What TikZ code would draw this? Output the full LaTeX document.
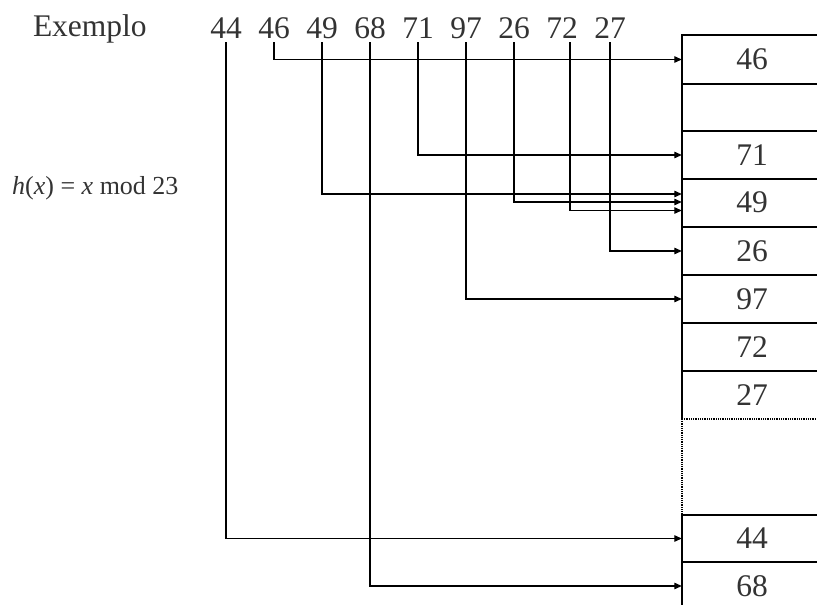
\documentclass[tikz,border=0pt]{standalone}
\usepackage{fontspec}
\setmainfont{Liberation Serif}
\usetikzlibrary{arrows.meta}
\begin{document}
\begin{tikzpicture}[x=1pt,y=-1pt,
  lbl/.style={font=\fontsize{31.5}{36}\selectfont, text=black!80, inner sep=2pt, outer sep=2pt, anchor=base},
  cell/.style={font=\fontsize{31.5}{36}\selectfont, text=black!80, minimum width=140pt, minimum height=48pt, inner sep=0pt},
  conn/.style={line width=1.2pt, -{Triangle[length=7.5pt,width=6.5pt]}},
  gridline/.style={line width=1.8pt},
  dotline/.style={line width=1.2pt, dash pattern=on 1pt off 0.8pt}]
\useasboundingbox (0,0) rectangle (817,605);
% labels
\node[lbl, anchor=base west] (ex) at (29,36) {Exemplo};
\node[font=\fontsize{26}{30}\selectfont, text=black!80, anchor=base west, inner sep=0pt] (fx) at (12,194) {\textit{h}(\textit{x}) = \textit{x} mod 23};
\node[lbl] (n44) at (226,38) {44};
\node[lbl] (n46) at (274,38) {46};
\node[lbl] (n49) at (322,38) {49};
\node[lbl] (n68) at (370,38) {68};
\node[lbl] (n71) at (418,38) {71};
\node[lbl] (n97) at (466,38) {97};
\node[lbl] (n26) at (514,38) {26};
\node[lbl] (n72) at (562,38) {72};
\node[lbl] (n27) at (610,38) {27};
% cells
\node[cell] (c46) at (752,59.5) {46};
\node[cell] (c00) at (752,107.5) {};
\node[cell] (c71) at (752,155) {71};
\node[cell] (c49) at (752,202.5) {49};
\node[cell] (c26) at (752,251) {26};
\node[cell] (c97) at (752,299) {97};
\node[cell] (c72) at (752,347) {72};
\node[cell] (c27) at (752,395) {27};
\node[cell] (c44) at (752,538.5) {44};
\node[cell] (c68) at (752,586) {68};
% table lines
\draw[gridline] (817,35) -- (682,35) -- (682,419);
\foreach \y in {84,131,179,227,275,323,371,515,562} \draw[gridline] (682,\y) -- (817,\y);
\draw[dotline] (682,419) -- (817,419);
\draw[dotline] (682,419) -- (682,515);
\draw[gridline] (682,515) -- (682,605);
% connectors
\draw[conn] (n44) |- (c44.west);
\draw[conn] (n46) |- (c46.west);
\draw[conn] (n49) |- ([yshift=8.5pt]c49.west);
\draw[conn] (n68) |- (c68.west);
\draw[conn] (n71) |- (c71.west);
\draw[conn] (n97) |- (c97.west);
\draw[conn] (n26) |- ([yshift=0.5pt]c49.west);
\draw[conn] ([xshift=8pt]n72.south) |- ([yshift=-8pt]c49.west);
\draw[conn] (n27) |- (c26.west);
\end{tikzpicture}
\end{document}
